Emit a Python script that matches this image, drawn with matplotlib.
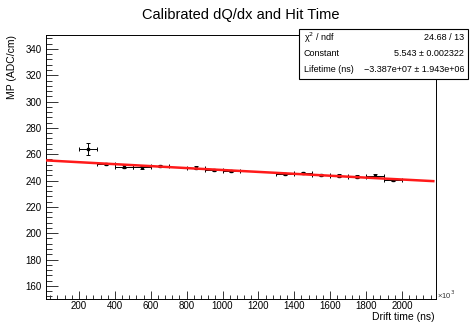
import numpy as np
import matplotlib
matplotlib.use('Agg')
from matplotlib import pyplot as plt
from matplotlib.ticker import MultipleLocator

plt.rcParams.update({'font.family': ['Liberation Sans', 'DejaVu Sans']})

# drift time bins (x10^3 ns) and measured MP values
drift_time = [250, 350, 450, 550, 650, 850, 950, 1050, 1350, 1450, 1550, 1650, 1750, 1850, 1950]
drift_err = [50] * 15
mp_value = [264.1, 252.5, 250.6, 250.2, 251.2, 249.9, 248.1, 247.1, 245.1, 245.6, 244.1, 243.8, 243.0, 243.8, 240.5]
mp_err = [4.4, 1.0, 1.0, 1.1, 0.9, 1.0, 1.0, 0.9, 0.9, 0.9, 0.9, 0.9, 1.0, 1.1, 1.0]

# fit result: exp(constant + t / lifetime)
fit_constant = 5.543
fit_lifetime = -3.387e7
fit_range = [16, 2175]

stat_rows = [("\u03c7$^2$ / ndf", "24.68 / 13"),
             ("Constant", "5.543 \u00b1 0.002322"),
             ("Lifetime (ns)", "\u22123.387e+07 \u00b1 1.943e+06")]

W, H = 471, 322
fig = plt.figure(figsize=(W / 100, H / 100), dpi=100)
ax = fig.add_axes([46 / W, 1 - 299 / H, 390 / W, 264 / H])

ax.errorbar(drift_time, mp_value, xerr=drift_err, yerr=mp_err, fmt='s', color='black',
            ms=1.8, lw=0.7, capsize=1.5, capthick=0.7, zorder=2)

tx = np.linspace(fit_range[0], fit_range[1], 200)
ax.plot(tx, np.exp(fit_constant + tx * 1e3 / fit_lifetime), color='#ff1a1a', lw=1.8, zorder=3)

ax.set_xlim(16, 2190)
ax.set_ylim(150, 350.6)
ax.xaxis.set_major_locator(MultipleLocator(200))
ax.xaxis.set_minor_locator(MultipleLocator(40))
ax.yaxis.set_major_locator(MultipleLocator(20))
ax.yaxis.set_minor_locator(MultipleLocator(4))
ax.set_yticks([160, 180, 200, 220, 240, 260, 280, 300, 320, 340])
ax.tick_params(axis='both', which='both', direction='in', labelsize=7, width=0.7,
               top=False, right=False, color='#333333')
ax.tick_params(axis='y', which='major', length=8.4, pad=3)
ax.tick_params(axis='y', which='minor', length=4.2)
ax.tick_params(axis='x', which='major', length=5.6, pad=1.5)
ax.tick_params(axis='x', which='minor', length=2.8)
for sp in ax.spines.values():
    sp.set_linewidth(0.7)

fig.text(241 / W, 1 - 15 / H, "Calibrated dQ/dx and Hit Time", ha='center', va='center', fontsize=10.5)
fig.text(435 / W, 1 - 317 / H, "Drift time (ns)", ha='right', va='center', fontsize=7.5)
fig.text(12 / W, 1 - 35 / H, "MP (ADC/cm)", ha='center', va='top', rotation=90, fontsize=7.5)
fig.text(437 / W, 1 - 295 / H, "\u00d710$^3$", ha='left', va='center', fontsize=5.5, color='#333333')

# stat box
box = plt.Rectangle((299 / W, 1 - 79 / H), 169 / W, 50 / H, transform=fig.transFigure,
                    facecolor='white', edgecolor='black', lw=0.8, zorder=5)
fig.patches.append(box)
for i, (name, val) in enumerate(stat_rows):
    y = 1 - (38 + i * 16) / H
    fig.text(304 / W, y, name, ha='left', va='center', fontsize=6.5, zorder=6)
    fig.text(464 / W, y, val, ha='right', va='center', fontsize=6.5, zorder=6)

fig.savefig('out.png', dpi=100)
